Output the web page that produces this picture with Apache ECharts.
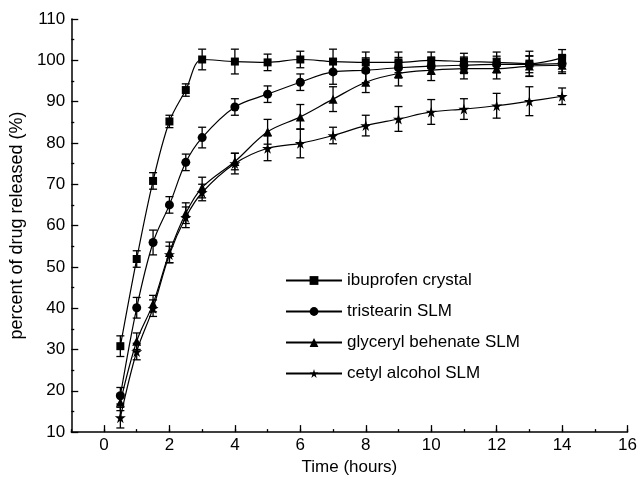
<!DOCTYPE html>
<html>
<head>
<meta charset="utf-8">
<script src="https://cdn.jsdelivr.net/npm/echarts@6/dist/echarts.min.js"></script>
<style>
html, body { margin: 0; padding: 0; background: #fff; }
#chart { width: 640px; height: 481px; }
</style>
</head>
<body>
<div id="chart"></div>
<script>
// sampling times (hours)
var times = [0.5, 1, 1.5, 2, 2.5, 3, 4, 5, 6, 7, 8, 9, 10, 11, 12, 13, 14];

var seriesNames = ['ibuprofen crystal', 'tristearin SLM', 'glyceryl behenate SLM', 'cetyl alcohol SLM'];

var ibuprofen    = [30.8, 51.9, 70.8, 85.2, 92.8, 100.2, 99.7, 99.5, 100.2, 99.7, 99.5, 99.5, 100.0, 99.7, 99.5, 99.2, 100.6];
var ibuprofenErr = [2.5, 2, 2, 1.5, 1.5, 2.5, 3, 2, 2, 3, 2.5, 2.5, 2, 2, 2.5, 3, 2];

var tristearin    = [18.8, 40.1, 55.9, 65.0, 75.3, 81.3, 88.7, 91.8, 94.7, 97.2, 97.6, 98.2, 98.6, 98.8, 99.0, 99.0, 99.2];
var tristearinErr = [2, 2.5, 3, 2, 2, 2.5, 2, 2, 2, 3, 3, 2.5, 2, 2, 2, 2, 2];

var glyceryl    = [17.2, 32.0, 41.1, 53.5, 63.0, 69.2, 75.5, 82.7, 86.3, 90.6, 94.7, 96.8, 97.6, 98.0, 98.0, 98.6, 98.8];
var glycerylErr = [2, 2, 2, 2.5, 2.5, 2.5, 2, 3, 3, 3, 2.5, 3, 2.5, 2.5, 2.5, 2.5, 2];

var cetyl    = [13.5, 29.5, 40.0, 53.0, 62.0, 68.0, 75.0, 78.7, 79.9, 81.8, 84.2, 85.8, 87.5, 88.2, 89.0, 90.1, 91.3];
var cetylErr = [2.5, 2, 2, 2, 2.5, 2, 2.5, 3, 3.5, 2, 2.5, 3, 3, 2.5, 3, 3.5, 2];

var xLabels = [0, 2, 4, 6, 8, 10, 12, 14, 16];

var starPath = 'path://M50,0 L61,35 L98,35 L68,57 L79,91 L50,70 L21,91 L32,57 L2,35 L39,35 Z';
var symbols = ['rect', 'circle', 'triangle', starPath];
var symbolSizes = [8, 9, 9, 11];
var values = [ibuprofen, tristearin, glyceryl, cetyl];
var errors = [ibuprofenErr, tristearinErr, glycerylErr, cetylErr];

function pairs(ys) {
    return times.map(function (t, i) { return [t, ys[i]]; });
}
function triples(ys, es) {
    return times.map(function (t, i) { return [t, ys[i], es[i]]; });
}

function renderErr(params, api) {
    var x = api.value(0), y = api.value(1), e = api.value(2);
    var top = api.coord([x, y + e]);
    var bot = api.coord([x, y - e]);
    var w = 4;
    var st = { stroke: '#000', lineWidth: 1.3 };
    return {
        type: 'group',
        children: [
            { type: 'line', shape: { x1: top[0], y1: top[1], x2: bot[0], y2: bot[1] }, style: st },
            { type: 'line', shape: { x1: top[0] - w, y1: top[1], x2: top[0] + w, y2: top[1] }, style: st },
            { type: 'line', shape: { x1: bot[0] - w, y1: bot[1], x2: bot[0] + w, y2: bot[1] }, style: st }
        ]
    };
}

var font = 'Liberation Sans';
var series = [];
values.forEach(function (ys, k) {
    series.push({
        name: seriesNames[k],
        type: 'line',
        data: pairs(ys),
        smooth: 0.35,
        symbol: symbols[k],
        symbolSize: symbolSizes[k],
        showAllSymbol: true,
        lineStyle: { color: '#000', width: 1.2 },
        itemStyle: { color: '#000' },
        z: 3
    });
    series.push({
        type: 'custom',
        renderItem: renderErr,
        data: triples(ys, errors[k]),
        encode: { x: 0, y: 1 },
        silent: true,
        z: 2
    });
});

var myChart = echarts.init(document.getElementById('chart'));
var option = {
    animation: false,
    backgroundColor: '#fff',
    textStyle: { fontFamily: font, color: '#000' },
    grid: { left: 63, right: 9, top: 19, bottom: 44 },
    legend: {
        data: seriesNames,
        orient: 'vertical',
        left: 280,
        top: 267,
        itemWidth: 56,
        itemHeight: 11,
        itemGap: 14,
        textStyle: { fontFamily: font, fontSize: 17, color: '#000' }
    },
    xAxis: [{
        type: 'value',
        min: -1,
        max: 16,
        name: 'Time (hours)',
        nameLocation: 'middle',
        nameGap: 24,
        nameTextStyle: { fontFamily: font, fontSize: 17, color: '#000' },
        splitLine: { show: false },
        axisLine: { onZero: false, lineStyle: { color: '#000', width: 1.5 } },
        axisTick: { inside: true, length: 7, customValues: xLabels, lineStyle: { color: '#000', width: 1.3 } },
        axisLabel: { customValues: xLabels, margin: 5, fontFamily: font, fontSize: 17, color: '#000' }
    }, {
        // minor ticks every hour
        type: 'value',
        min: -1,
        max: 16,
        interval: 1,
        position: 'bottom',
        splitLine: { show: false },
        axisLine: { show: false, onZero: false },
        axisTick: { inside: true, length: 3, lineStyle: { color: '#000', width: 1.3 } },
        axisLabel: { show: false }
    }],
    yAxis: {
        type: 'value',
        min: 10,
        max: 110,
        interval: 10,
        name: 'percent of drug released (%)',
        nameLocation: 'middle',
        nameGap: 37,
        nameTextStyle: { fontFamily: font, fontSize: 18, color: '#000' },
        splitLine: { show: false },
        axisLine: { show: true, onZero: false, lineStyle: { color: '#000', width: 1.5 } },
        axisTick: { inside: true, length: 7, lineStyle: { color: '#000', width: 1.3 } },
        minorTick: { show: true, splitNumber: 2, length: 3, lineStyle: { color: '#000', width: 1.3 } },
        axisLabel: { margin: 6, fontFamily: font, fontSize: 17, color: '#000' }
    },
    series: series
};
myChart.setOption(option);
</script>
</body>
</html>
